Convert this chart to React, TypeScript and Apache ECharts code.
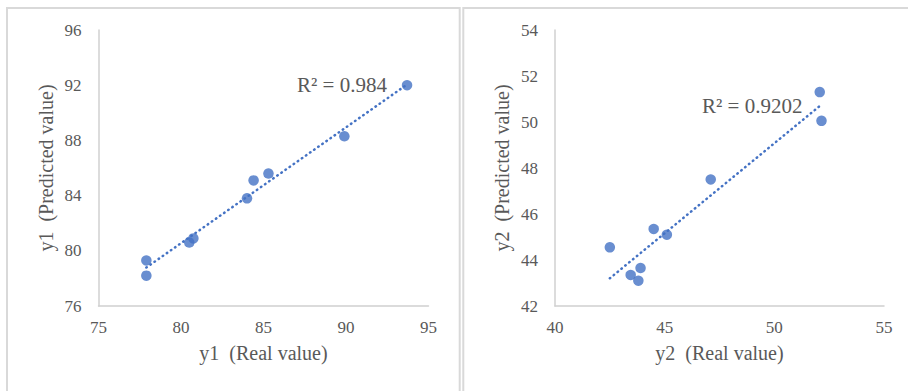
import React, { useEffect, useRef } from "react";
import * as echarts from "echarts";

const y1Real = [93.7, 89.9, 85.3, 84.4, 84.0, 80.75, 80.5, 77.9, 77.9];
const y1Pred = [92.0, 88.3, 85.6, 85.1, 83.8, 80.9, 80.6, 79.3, 78.2];
const y2Real = [52.07, 52.15, 47.1, 44.5, 45.1, 42.5, 43.9, 43.45, 43.8];
const y2Pred = [51.3, 50.05, 47.5, 45.35, 45.1, 44.55, 43.65, 43.35, 43.1];
const r2Labels = ["R\u00B2 = 0.984", "R\u00B2 = 0.9202"];
const xTitles = ["y1\u2002(Real value)", "y2\u2002(Real value)"];
const yTitles = ["y1\u2002(Predicted value)", "y2\u2002(Predicted value)"];

function trend(xs: number[], ys: number[]) {
  const n = xs.length;
  const mx = xs.reduce((a, b) => a + b, 0) / n;
  const my = ys.reduce((a, b) => a + b, 0) / n;
  let sxy = 0, sxx = 0;
  for (let i = 0; i < n; i++) {
    sxy += (xs[i] - mx) * (ys[i] - my);
    sxx += (xs[i] - mx) * (xs[i] - mx);
  }
  const b = sxy / sxx;
  const a = my - b * mx;
  const x0 = Math.min(...xs), x1 = Math.max(...xs);
  return [[x0, a + b * x0], [x1, a + b * x1]];
}

const FONT = "'Liberation Serif', 'Times New Roman', serif";
const TXT = "#595959";
const BLUE = "#4472C4";
const AXIS = "#d0d0d0";

export default function App() {
  const ref = useRef<HTMLDivElement>(null);
  useEffect(() => {
    if (!ref.current) return;
    const chart = echarts.init(ref.current, null, { renderer: "svg" });
    const xAxisBase = (gi: number, min: number, max: number, interval: number) => ({
      type: "value",
      gridIndex: gi,
      min, max, interval,
      splitLine: { show: false },
      axisTick: { show: false },
      axisLine: { show: true, lineStyle: { color: AXIS, width: 1.5 } },
      axisLabel: { color: TXT, fontFamily: FONT, fontSize: 17, margin: 13 },
      name: xTitles[gi],
      nameLocation: "middle",
      nameGap: 37,
      nameTextStyle: { color: TXT, fontFamily: FONT, fontSize: 20 },
    });
    const yAxisBase = (gi: number, min: number, max: number, interval: number) => ({
      type: "value",
      gridIndex: gi,
      min, max, interval,
      splitLine: { show: false },
      axisTick: { show: false },
      axisLine: { show: true, lineStyle: { color: AXIS, width: 1.5 } },
      axisLabel: { color: TXT, fontFamily: FONT, fontSize: 17, margin: 17 },
      name: yTitles[gi],
      nameLocation: "middle",
      nameGap: 43,
      nameTextStyle: { color: TXT, fontFamily: FONT, fontSize: 20 },
    });
    const scatter = (gi: number, xs: number[], ys: number[]) => ({
      type: "scatter",
      xAxisIndex: gi,
      yAxisIndex: gi,
      symbolSize: 10.5,
      itemStyle: { color: BLUE },
      data: xs.map((x, i) => [x, ys[i]]),
      z: 3,
    });
    const line = (gi: number, xs: number[], ys: number[]) => ({
      type: "line",
      xAxisIndex: gi,
      yAxisIndex: gi,
      symbol: "none",
      lineStyle: { color: BLUE, width: 2.5, type: [0.5, 4.5], cap: "round" },
      data: trend(xs, ys),
      z: 2,
    });
    chart.setOption({
      animation: false,
      backgroundColor: "#ffffff",
      textStyle: { fontFamily: FONT },
      grid: [
        { left: 98.5, top: 30, width: 330, height: 276 },
        { left: 555, top: 30, width: 329, height: 276 },
      ],
      xAxis: [xAxisBase(0, 75, 95, 5), xAxisBase(1, 40, 55, 5)],
      yAxis: [yAxisBase(0, 76, 96, 4), yAxisBase(1, 42, 54, 2)],
      series: [
        line(0, y1Real, y1Pred),
        scatter(0, y1Real, y1Pred),
        line(1, y2Real, y2Pred),
        scatter(1, y2Real, y2Pred),
      ],
      graphic: [
        { type: "rect", shape: { x: 7, y: 8, width: 452.7, height: 500 }, style: { fill: "none", stroke: "#d9d9d9", lineWidth: 2 }, silent: true },
        { type: "rect", shape: { x: 463.3, y: 8, width: 500, height: 500 }, style: { fill: "none", stroke: "#d9d9d9", lineWidth: 2 }, silent: true },
        { type: "text", x: 297, y: 84.5, style: { text: r2Labels[0], fill: TXT, font: `21px ${FONT}`, textVerticalAlign: "middle" } },
        { type: "text", x: 702, y: 106, style: { text: r2Labels[1], fill: TXT, font: `21px ${FONT}`, textVerticalAlign: "middle" } },
      ],
    });
    return () => chart.dispose();
  }, []);
  return (
    <div
      ref={ref}
      style={{ position: "absolute", left: 0, top: 0, width: 908, height: 391, background: "#fff" }}
    />
  );
}
